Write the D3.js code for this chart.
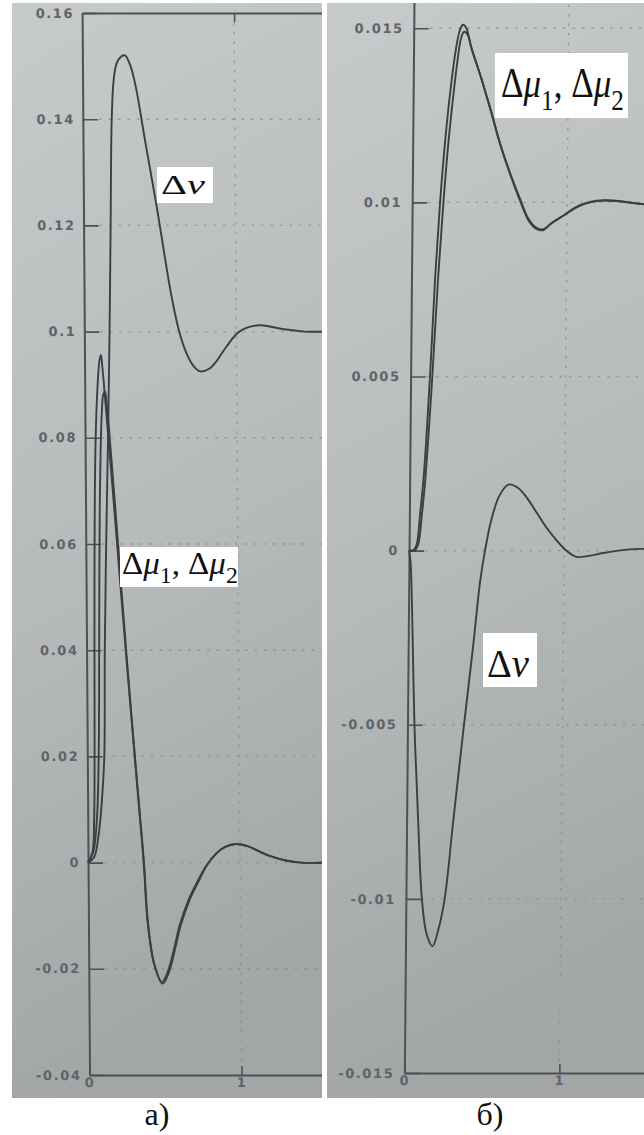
<!DOCTYPE html>
<html>
<head>
<meta charset="utf-8">
<script src="https://cdn.jsdelivr.net/npm/d3@7"></script>
<style>
  body { margin: 0; background: #fff; }
  svg { display: block; }
</style>
</head>
<body>
<svg id="chart" width="644" height="1135"></svg>
<script>
// panel а): time and values
const tNuA = [0, 0.04, 0.07, 0.095, 0.112, 0.12, 0.134, 0.151, 0.166, 0.178, 0.19, 0.205, 0.225, 0.255, 0.28, 0.31, 0.345, 0.41, 0.485, 0.52, 0.57, 0.62, 0.67, 0.72, 0.76, 0.82, 0.87, 0.93, 1.02, 1.15, 1.3, 1.45, 1.6];
const nuA = [0, 0.001, 0.005, 0.012, 0.02, 0.04, 0.06, 0.08, 0.1, 0.12, 0.14, 0.1475, 0.1505, 0.1518, 0.152, 0.1505, 0.1468, 0.1357, 0.123, 0.1165, 0.1075, 0.1005, 0.096, 0.0934, 0.0925, 0.093, 0.0945, 0.097, 0.1, 0.1012, 0.1005, 0.1, 0.1];

const tMu1A = [0, 0.03, 0.042, 0.048, 0.052, 0.056, 0.062, 0.072, 0.085, 0.098, 0.108, 0.118, 0.14, 0.18, 0.228, 0.283, 0.334, 0.366, 0.39, 0.43, 0.48, 0.52, 0.56, 0.6, 0.66, 0.72, 0.78, 0.84, 0.9, 0.97, 1.05, 1.12, 1.2, 1.3, 1.4, 1.6];
const mu1A = [0, 0.002, 0.008, 0.02, 0.04, 0.055, 0.07, 0.082, 0.09, 0.0945, 0.0956, 0.093, 0.085, 0.07, 0.0513, 0.0306, 0.0118, 0, -0.0114, -0.019, -0.0225, -0.0205, -0.0165, -0.0118, -0.007, -0.0035, -0.0005, 0.0016, 0.0029, 0.0035, 0.0031, 0.0022, 0.0012, 0.0004, 0, 0];

const tMu2A = [0, 0.035, 0.06, 0.075, 0.083, 0.088, 0.094, 0.102, 0.112, 0.122, 0.133, 0.145, 0.17, 0.2, 0.232, 0.285, 0.336, 0.368, 0.392, 0.432, 0.485, 0.525, 0.565, 0.605, 0.665, 0.725, 0.78, 0.84, 0.9, 0.97, 1.05, 1.12, 1.2, 1.3, 1.4, 1.6];
const mu2A = [0, 0.002, 0.008, 0.02, 0.04, 0.055, 0.068, 0.078, 0.085, 0.0882, 0.0887, 0.086, 0.077, 0.065, 0.0515, 0.0305, 0.0117, 0, -0.0115, -0.0193, -0.0228, -0.0208, -0.0167, -0.012, -0.0071, -0.0036, -0.0006, 0.0016, 0.0029, 0.0035, 0.0031, 0.0022, 0.0012, 0.0004, 0, 0];

// panel б)
const tNuB = [0, 0.01, 0.025, 0.045, 0.075, 0.103, 0.135, 0.174, 0.21, 0.25, 0.3, 0.36, 0.42, 0.46, 0.49, 0.53, 0.58, 0.64, 0.7, 0.755, 0.82, 0.884, 0.95, 1.01, 1.08, 1.16, 1.25, 1.35, 1.48, 1.6];
const nuB = [0, -0.0003, -0.002, -0.005, -0.0078, -0.01, -0.011, -0.01136, -0.0109, -0.01, -0.0078, -0.0052, -0.0027, -0.0009, 0, 0.0009, 0.00158, 0.0019, 0.0018, 0.00153, 0.0011, 0.00067, 0.0003, 0.00002, -0.00018, -0.00015, -0.00007, 0, 0.00005, 0.00003];

const tMu1B = [0, 0.03, 0.05, 0.07, 0.09, 0.125, 0.152, 0.18, 0.21, 0.24, 0.27, 0.295, 0.317, 0.34, 0.366, 0.432, 0.497, 0.562, 0.629, 0.696, 0.748, 0.794, 0.84, 0.9, 0.97, 1.084, 1.232, 1.484, 1.6];
const mu1B = [0, 0.00002, 0.0002, 0.0011, 0.0021, 0.005, 0.0078, 0.01, 0.0118, 0.0132, 0.0143, 0.0149, 0.0151, 0.015, 0.01455, 0.01365, 0.0127, 0.0117, 0.01085, 0.0101, 0.00955, 0.0093, 0.00922, 0.0094, 0.0096, 0.00992, 0.01006, 0.00995, 0.0099];

const tMu2B = [0, 0.04, 0.06, 0.08, 0.1, 0.14, 0.17, 0.2, 0.23, 0.26, 0.285, 0.305, 0.325, 0.35, 0.375, 0.44, 0.505, 0.57, 0.635, 0.7, 0.752, 0.798, 0.845, 0.9, 0.97, 1.084, 1.232, 1.484, 1.6];
const mu2B = [0, 0.00002, 0.0002, 0.001, 0.002, 0.005, 0.0077, 0.0099, 0.0117, 0.0131, 0.0141, 0.0147, 0.0149, 0.0148, 0.0144, 0.01355, 0.0126, 0.0116, 0.01075, 0.01, 0.00948, 0.00925, 0.0092, 0.0094, 0.0096, 0.00991, 0.01005, 0.00995, 0.0099];

const yTicksA = [-0.04, -0.02, 0, 0.02, 0.04, 0.06, 0.08, 0.1, 0.12, 0.14, 0.16];
const yLabelsA = ['-0.04', '-0.02', '0', '0.02', '0.04', '0.06', '0.08', '0.1', '0.12', '0.14', '0.16'];
const yTicksB = [-0.015, -0.01, -0.005, 0, 0.005, 0.01, 0.015];
const yLabelsB = ['-0.015', '-0.01', '-0.005', '0', '0.005', '0.01', '0.015'];
const xTicks = [0, 1];
const xLabels = ['0', '1'];

const NU = [{t: 'Δ'}, {t: 'ν', it: true}];
const MU = [{t: 'Δ'}, {t: 'μ', it: true}, {t: '1', sub: true}, {t: ', '}, {t: 'Δ'}, {t: 'μ', it: true}, {t: '2', sub: true}];

const panels = [
    {
        id: 'a', photo: [12, 3, 310, 1095], x0: 82, unit: 152, skew: 0.007,
        yDomain: [-0.04, 0.16], yRange: [1075, 13], frameTop: true,
        ticks: yTicksA, labels: yLabelsA, labelPad: 8,
        series: [[tNuA, nuA], [tMu1A, mu1A], [tMu2A, mu2A]],
        notes: [
            {box: [157, 167, 56, 36], x: 161, y: 194, size: 28, len: 44, parts: NU},
            {box: [120, 547, 118, 40], x: 122, y: 574, size: 31, len: 114, parts: MU},
        ],
        caption: 'а)', capX: 157,
    },
    {
        id: 'b', photo: [327, 3, 317, 1095], x0: 414, unit: 155, skew: -0.009,
        yDomain: [-0.015, 0.0165], yRange: [1073, -24], frameTop: false,
        ticks: yTicksB, labels: yLabelsB, labelPad: 10,
        series: [[tNuB, nuB], [tMu1B, mu1B], [tMu2B, mu2B]],
        notes: [
            {box: [495, 53, 133, 65], x: 501, y: 97, size: 42, len: 121, parts: MU},
            {box: [483, 633, 54, 54], x: 487, y: 677, size: 40, len: 42, parts: NU},
        ],
        caption: 'б)', capX: 490,
    },
];

const svg = d3.select('#chart');
const defs = svg.append('defs');

const paper = defs.append('linearGradient').attr('id', 'paper')
    .attr('x1', 0).attr('y1', 0).attr('x2', 0.15).attr('y2', 1);
paper.append('stop').attr('offset', '0%').attr('stop-color', '#c7cacb');
paper.append('stop').attr('offset', '55%').attr('stop-color', '#b6babb');
paper.append('stop').attr('offset', '100%').attr('stop-color', '#a2a6a7');

const ink = '#3b3f41';
const axisInk = '#4d5153';

const drawPanel = (p) => {
    defs.append('clipPath').attr('id', 'clip-' + p.id).append('rect')
        .attr('x', p.photo[0]).attr('y', p.photo[1])
        .attr('width', p.photo[2]).attr('height', p.photo[3]);

    const g = svg.append('g').attr('clip-path', 'url(#clip-' + p.id + ')');
    g.append('rect')
        .attr('x', p.photo[0]).attr('y', p.photo[1])
        .attr('width', p.photo[2]).attr('height', p.photo[3])
        .attr('fill', 'url(#paper)');

    const x = d3.scaleLinear().domain([0, 2]).range([p.x0, p.x0 + 2 * p.unit]);
    const y = d3.scaleLinear().domain(p.yDomain).range(p.yRange);

    // the photo is slightly slanted, so lean the whole plot
    const plot = g.append('g')
        .attr('transform', 'skewX(' + (Math.atan(p.skew) * 180 / Math.PI) + ')');

    const grid = plot.append('g')
        .attr('stroke', '#868a8c')
        .attr('stroke-width', 1.4)
        .attr('stroke-dasharray', '2.5,7')
        .attr('opacity', 0.7);
    grid.selectAll('.hgrid')
        .data(p.ticks.filter(d => d !== p.yDomain[0] && d !== p.yDomain[1]))
        .enter().append('line')
        .attr('class', 'hgrid')
        .attr('x1', x(0) + 16).attr('x2', x(2))
        .attr('y1', d => y(d)).attr('y2', d => y(d));
    grid.selectAll('.vgrid')
        .data(xTicks.filter(d => d !== 0))
        .enter().append('line')
        .attr('class', 'vgrid')
        .attr('x1', d => x(d)).attr('x2', d => x(d))
        .attr('y1', y(p.yDomain[1])).attr('y2', y(p.yDomain[0]));

    const yAxis = plot.append('g')
        .attr('transform', 'translate(' + x(0) + ',0)')
        .call(d3.axisLeft(y).tickValues(p.ticks).tickSize(-15).tickSizeOuter(0)
            .tickPadding(p.labelPad).tickFormat((d, i) => p.labels[i]));

    const xAxis = plot.append('g')
        .attr('transform', 'translate(0,' + y(p.yDomain[0]) + ')')
        .call(d3.axisBottom(x).tickValues(xTicks).tickSize(-9).tickSizeOuter(0)
            .tickPadding(3).tickFormat((d, i) => xLabels[i]));

    const axes = [yAxis, xAxis];
    if (p.frameTop) {
        axes.push(plot.append('g')
            .attr('transform', 'translate(0,' + y(p.yDomain[1]) + ')')
            .call(d3.axisTop(x).tickValues([1]).tickSize(-9).tickSizeOuter(0).tickFormat('')));
    }
    axes.forEach(a => {
        a.select('.domain').attr('stroke', axisInk).attr('stroke-width', 2);
        a.selectAll('.tick line').attr('stroke', axisInk).attr('stroke-width', 1.6);
        a.selectAll('.tick text')
            .attr('fill', '#606466')
            .attr('font-family', "'DejaVu Sans', sans-serif")
            .attr('font-weight', 'bold')
            .attr('font-size', 13)
            .attr('letter-spacing', 1.6);
    });

    const line = d3.line()
        .x(d => x(d[0]))
        .y(d => y(d[1]))
        .curve(d3.curveCatmullRom.alpha(0.5));

    plot.selectAll('.curve')
        .data(p.series)
        .enter().append('path')
        .attr('class', 'curve')
        .attr('fill', 'none')
        .attr('stroke', ink)
        .attr('stroke-width', 1.9)
        .attr('stroke-linejoin', 'round')
        .attr('d', s => line(d3.zip(s[0], s[1])));

    // white label stickers pasted on the photo
    p.notes.forEach(n => {
        g.append('rect')
            .attr('x', n.box[0]).attr('y', n.box[1])
            .attr('width', n.box[2]).attr('height', n.box[3])
            .attr('fill', '#fff');
        const holder = g.append('g');
        const txt = holder.append('text')
            .attr('font-family', "'Liberation Serif', 'Times New Roman', serif")
            .attr('font-size', n.size)
            .attr('fill', '#111');
        let shift = 0;
        n.parts.forEach(part => {
            const drop = part.sub ? n.size * 0.3 : 0;
            txt.append('tspan')
                .attr('dy', drop - shift)
                .attr('font-style', part.it ? 'italic' : 'normal')
                .attr('font-size', part.sub ? n.size * 0.72 : n.size)
                .text(part.t);
            shift = drop;
        });
        // stretch to the width of the pasted label
        const w = txt.node().getComputedTextLength();
        holder.attr('transform', 'translate(' + n.x + ',' + n.y + ') scale(' + (n.len / w) + ',1)');
    });

    svg.append('text')
        .attr('x', p.capX).attr('y', 1125)
        .attr('text-anchor', 'middle')
        .attr('font-family', "'Liberation Serif', 'Times New Roman', serif")
        .attr('font-size', 32)
        .attr('fill', '#111')
        .text(p.caption);
};

panels.forEach(drawPanel);
</script>
</body>
</html>
